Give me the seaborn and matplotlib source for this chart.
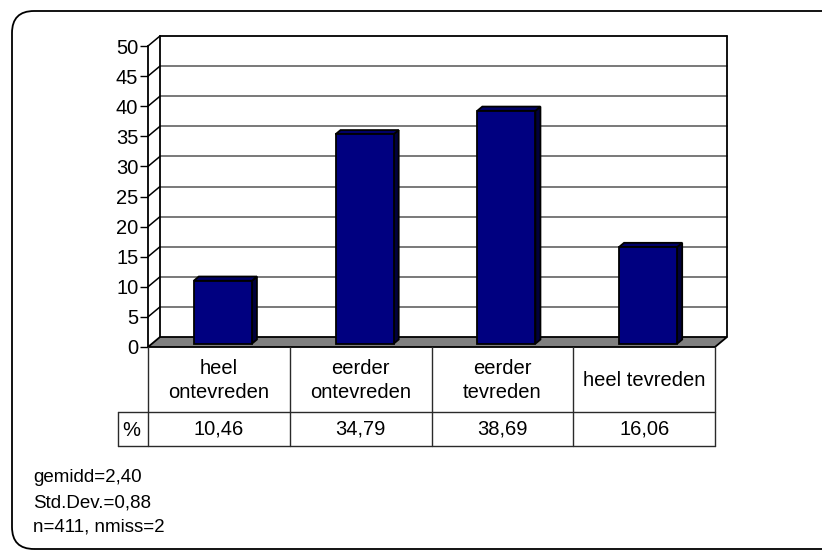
import numpy as np
import pandas as pd
import matplotlib
matplotlib.use("Agg")
import matplotlib.pyplot as plt
import seaborn as sns
from matplotlib.patches import Polygon, FancyBboxPatch
from matplotlib.lines import Line2D
import matplotlib.transforms as mtransforms

# ---- data ----
categories = ["heel\nontevreden", "eerder\nontevreden", "eerder\ntevreden", "heel tevreden"]
percentages = [10.46, 34.79, 38.69, 16.06]
value_labels = ["10,46", "34,79", "38,69", "16,06"]
y_ticks = [0, 5, 10, 15, 20, 25, 30, 35, 40, 45, 50]
row_label = "%"
stats_lines = ["gemidd=2,40", "Std.Dev.=0,88", "n=411, nmiss=2"]

sns.set_theme(style="white")
plt.rcParams["font.family"] = ["Liberation Sans", "DejaVu Sans"]

W, H = 822, 551
fig = plt.figure(figsize=(W / 100, H / 100), dpi=100)
fig.patch.set_facecolor("white")

# plot area (front plane)
left_px, right_px, top_px, bot_px = 148, 715, 46, 347
ax = fig.add_axes([left_px / W, 1 - bot_px / H, (right_px - left_px) / W, (bot_px - top_px) / H])
ax.set_facecolor("none")

df = pd.DataFrame({"cat": categories, "pct": percentages})
sns.barplot(data=df, x="cat", y="pct", order=categories, color="#000080", saturation=1,
            width=0.41, edgecolor="black", linewidth=1.3, ax=ax, zorder=6)
ax.set_xlim(-0.5, len(categories) - 0.5)
ax.set_ylim(0, 50)
ax.set_yticks(y_ticks)
ax.set_yticklabels([str(t) for t in y_ticks])
ax.set_xticks([])
ax.set_xlabel("")
ax.set_ylabel("")
ax.tick_params(axis="y", left=True, length=6, width=1.0, color="black", pad=1,
               labelsize=14.5, labelcolor="black")
for s in ["top", "right", "bottom"]:
    ax.spines[s].set_visible(False)
ax.spines["left"].set_color("black")
ax.spines["left"].set_linewidth(1.3)
ax.spines["left"].set_zorder(7)

ID = mtransforms.IdentityTransform()
DX, DY = 12, 10          # depth of chart (pixels)
FB, BB = 0.33, 0.75      # bar depth fraction (front, back)

def disp(x, y):
    return ax.transData.transform((x, y))

x_lo, x_hi = ax.get_xlim()
# back wall gridlines and side-wall diagonals
for t in y_ticks:
    xl, yd = disp(x_lo, t)
    xr, _ = disp(x_hi, t)
    if t == 0:
        continue
    col = "black" if t == y_ticks[-1] else "#6e6e6e"
    ax.add_line(Line2D([xl + DX, xr + DX], [yd + DY, yd + DY], transform=ID, color=col,
                       lw=1.3, clip_on=False, zorder=1))
    ax.add_line(Line2D([xl, xl + DX], [yd, yd + DY], transform=ID, color="black",
                       lw=1.1, clip_on=False, zorder=1))

# back wall left and right edges
xl0, yb0 = disp(x_lo, 0)
xr0, yt0 = disp(x_hi, y_ticks[-1])
ax.add_line(Line2D([xl0 + DX, xl0 + DX], [yb0 + DY, yt0 + DY], transform=ID, color="black",
                   lw=1.3, clip_on=False, zorder=1))
ax.add_line(Line2D([xr0 + DX, xr0 + DX], [yb0 + DY, yt0 + DY], transform=ID, color="black",
                   lw=1.3, clip_on=False, zorder=1))

# floor
xr_b, _ = disp(x_hi, 0)
floor = Polygon([(xl0, yb0), (xr_b, yb0), (xr_b + DX, yb0 + DY), (xl0 + DX, yb0 + DY)],
                closed=True, transform=ID, facecolor="#808080", edgecolor="black",
                lw=1.3, clip_on=False, zorder=2)
ax.add_patch(floor)

# 3D bars
fx, fy = DX * FB, DY * FB
bx, by = DX * BB, DY * BB
for p in list(ax.patches):
    if p is floor:
        continue
    x0, y0 = p.get_x(), p.get_y()
    x1, y1 = x0 + p.get_width(), y0 + p.get_height()
    X0, Y0 = disp(x0, y0)
    X1, Y1 = disp(x1, y1)
    p.set_transform(ax.transData + mtransforms.Affine2D().translate(fx, fy))
    p.set_clip_on(False)
    side = Polygon([(X1 + fx, Y1 + fy), (X1 + bx, Y1 + by), (X1 + bx, Y0 + by), (X1 + fx, Y0 + fy)],
                   closed=True, transform=ID, facecolor="#00003c", edgecolor="black",
                   lw=1.3, clip_on=False, zorder=5)
    top = Polygon([(X0 + fx, Y1 + fy), (X1 + fx, Y1 + fy), (X1 + bx, Y1 + by), (X0 + bx, Y1 + by)],
                  closed=True, transform=ID, facecolor="#000068", edgecolor="black",
                  lw=1.3, clip_on=False, zorder=5)
    ax.add_patch(side)
    ax.add_patch(top)

# data table
def fig_y(ypx):
    return H - ypx

row1_top, row1_bot, row2_bot = 347, 412, 446
pct_left = 118
bounds = [i - 0.5 for i in range(len(categories) + 1)]
tcol = "#2a2a2a"
for b in bounds:
    xb, _ = disp(b, 0)
    fig.add_artist(Line2D([xb, xb], [fig_y(row1_top), fig_y(row2_bot)], transform=ID,
                          color=tcol, lw=1.0))
xz, _ = disp(bounds[-1], 0)
for yy in (row1_bot, row2_bot):
    fig.add_artist(Line2D([pct_left, xz], [fig_y(yy), fig_y(yy)], transform=ID, color=tcol, lw=1.0))
fig.add_artist(Line2D([pct_left, pct_left], [fig_y(row1_bot), fig_y(row2_bot)], transform=ID,
                      color=tcol, lw=1.0))

for i, (c, v) in enumerate(zip(categories, value_labels)):
    xc, _ = disp(i, 0)
    fig.text(xc / W, fig_y((row1_top + row1_bot) / 2 + 1) / H, c, ha="center", va="center",
             fontsize=14.5, color="black", linespacing=1.3)
    fig.text(xc / W, fig_y((row1_bot + row2_bot) / 2) / H, v, ha="center", va="center",
             fontsize=14.5, color="black")
fig.text((pct_left + 4) / W, fig_y((row1_bot + row2_bot) / 2 + 1) / H, row_label, ha="left",
         va="center", fontsize=14.5, color="black")

# statistics
for k, line in enumerate(stats_lines):
    fig.text(33 / W, fig_y(478 + 24.5 * k) / H, line, ha="left", va="center", fontsize=13.5,
             color="black")

# rounded border: top edge and left side drawn; right side runs off the image
border = FancyBboxPatch((12, fig_y(549)), 845 - 12, 549 - 11,
                        boxstyle="round,pad=0,rounding_size=22", transform=ID,
                        facecolor="none", edgecolor="black", lw=1.3, zorder=0,
                        clip_on=False)
fig.add_artist(border)

fig.savefig("out.png", dpi=100)
